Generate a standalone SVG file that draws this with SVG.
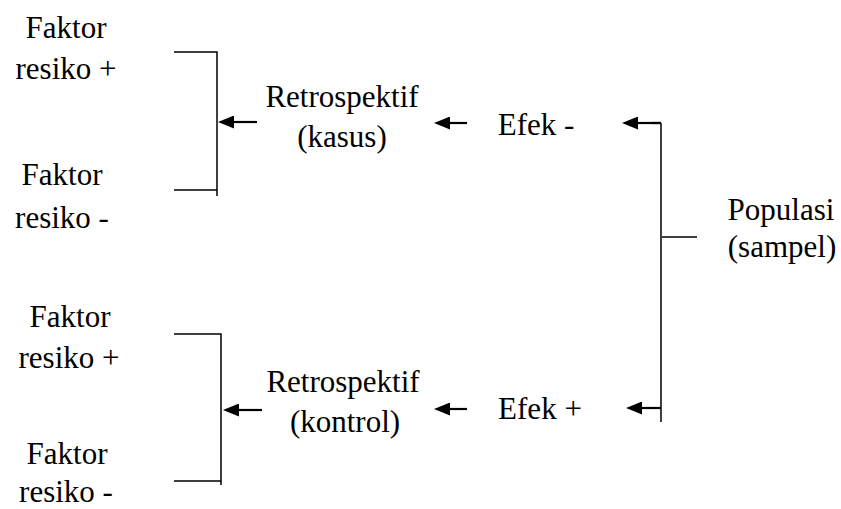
<svg xmlns="http://www.w3.org/2000/svg" width="841" height="509" viewBox="0 0 841 509">
<defs>
<marker id="ah" viewBox="0 0 16 13" refX="6" refY="6.5" markerWidth="16" markerHeight="13" markerUnits="userSpaceOnUse" orient="auto">
<path d="M0,0 L16,6.5 L0,13 z" fill="#000"/>
</marker>
<style>
text{font-family:"Liberation Serif","Times New Roman",serif;font-size:31px;fill:#000;text-anchor:middle}
.ln{stroke:#000;stroke-width:1.5;fill:none}
.ar{stroke:#000;stroke-width:2.2;fill:none;marker-end:url(#ah)}
</style>
</defs>
<rect width="841" height="509" fill="#fff"/>
<g id="faktor-top-plus"><text x="66" y="38">Faktor</text><text x="66" y="79">resiko +</text></g>
<g id="faktor-top-minus"><text x="62" y="185">Faktor</text><text x="62" y="228">resiko -</text></g>
<g id="faktor-bot-plus"><text x="70" y="327">Faktor</text><text x="69" y="368">resiko +</text></g>
<g id="faktor-bot-minus"><text x="67" y="464">Faktor</text><text x="66" y="502">resiko -</text></g>
<g id="retro-kasus"><text x="342" y="107">Retrospektif</text><text x="342" y="147">(kasus)</text></g>
<g id="retro-kontrol"><text x="343" y="392">Retrospektif</text><text x="345" y="432">(kontrol)</text></g>
<g id="efek-minus"><text x="536" y="135">Efek -</text></g>
<g id="efek-plus"><text x="540" y="419">Efek +</text></g>
<g id="populasi"><text x="781" y="220">Populasi</text><text x="782" y="257">(sampel)</text></g>
<g id="connectors">
<path class="ln" d="M174,52 H217 V196 M174,190 H217"/>
<path class="ln" d="M174,334 H221 V485 M174,481 H221"/>
<path class="ln" d="M661,123 V422 M662,237 H697"/>
<path class="ln" d="M652,123 H661" style="stroke-width:2.2"/>
<line class="ar" x1="257" y1="122" x2="228" y2="122"/>
<line class="ar" x1="262" y1="410" x2="233" y2="410"/>
<line class="ar" x1="467" y1="123" x2="444" y2="123"/>
<line class="ar" x1="467" y1="409" x2="444" y2="409"/>
<line class="ar" x1="661" y1="123" x2="632" y2="123"/>
<line class="ar" x1="661" y1="408" x2="636" y2="408"/>
</g>
</svg>
